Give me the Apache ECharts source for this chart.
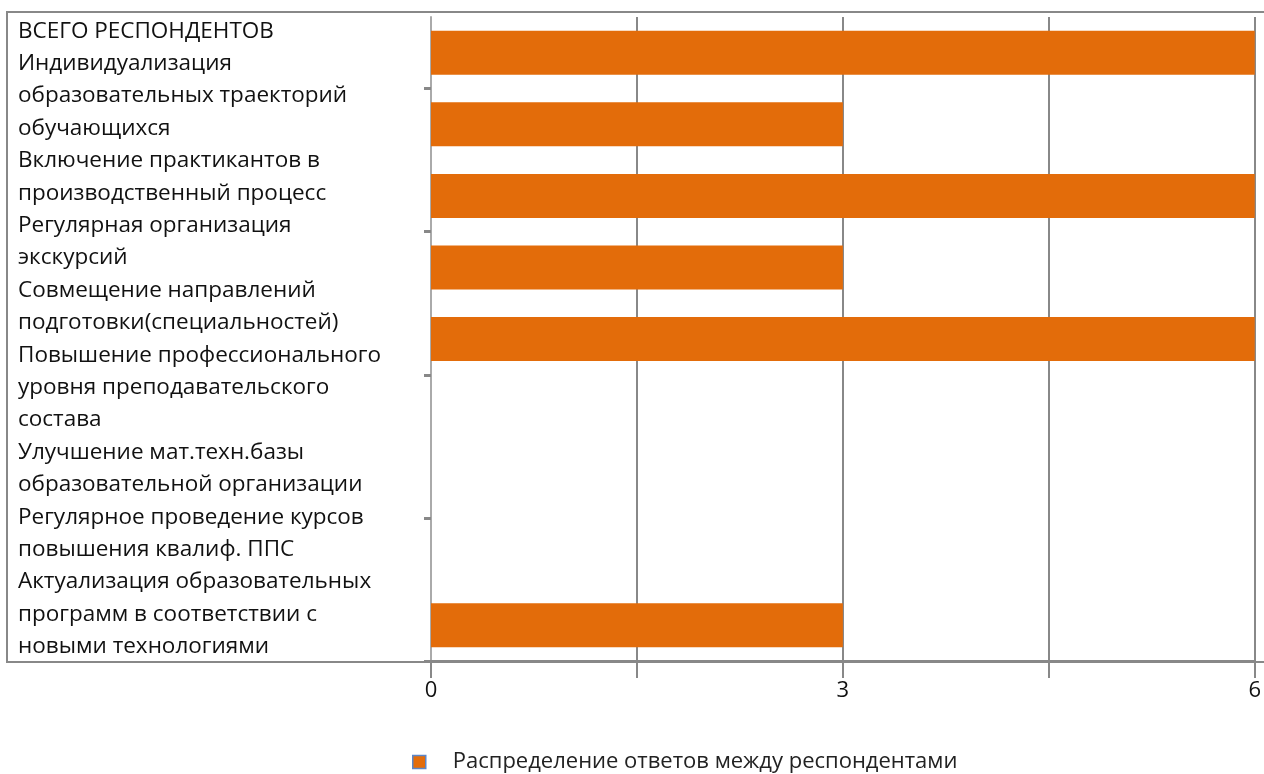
<!DOCTYPE html>
<html>
<head>
<meta charset="utf-8">
<script src="https://cdn.jsdelivr.net/npm/echarts@6/dist/echarts.min.js"></script>
<style>html,body{margin:0;padding:0;background:#fff}#c{width:1264px;height:774px}</style>
</head>
<body>
<div id="c"></div>
<script>
const categories = [
  'ВСЕГО РЕСПОНДЕНТОВ',
  'Индивидуализация\nобразовательных траекторий\nобучающихся',
  'Включение практикантов в\nпроизводственный процесс',
  'Регулярная организация\nэкскурсий',
  'Совмещение направлений\nподготовки(специальностей)',
  'Повышение профессионального\nуровня преподавательского\nсостава',
  'Улучшение мат.техн.базы\nобразовательной организации',
  'Регулярное проведение курсов\nповышения квалиф. ППС',
  'Актуализация образовательных\nпрограмм в соответствии с\nновыми технологиями'
];
const values = [6, 3, 6, 3, 6, 0, 0, 0, 3];
const seriesName = 'Распределение ответов между респондентами';
const xTickLabels = [0, 3, 6];

const chart = echarts.init(document.getElementById('c'));
const FONT = 'Open Sans';
chart.setOption({
  animation: false,
  textStyle: { fontFamily: FONT },
  graphic: [
    { type: 'rect', z: 0, shape: { x: 7, y: 12, width: 1280, height: 650 },
      style: { fill: 'none', stroke: '#888', lineWidth: 2 } },
    { type: 'text', z: 10, left: 18, top: 15,
      style: { text: categories.join('\n'), font: '22.5px "' + FONT + '"', lineHeight: 32.4, fill: '#111' } }
  ],
  legend: {
    left: 407, top: 746,
    icon: 'rect', itemWidth: 13, itemHeight: 13,
    itemStyle: { borderColor: '#5b86c8', borderWidth: 1.5 },
    textStyle: { fontSize: 22, color: '#222', fontFamily: FONT, padding: [0, 0, 0, 22] },
    data: [seriesName]
  },
  grid: { left: 431, right: 9, top: 17, bottom: 113 },
  xAxis: {
    type: 'value', min: 0, max: 6, interval: 1.5,
    axisLine: { show: true, lineStyle: { color: '#888', width: 3 } },
    axisTick: { show: true, length: 17, lineStyle: { color: '#888', width: 2 } },
    axisLabel: {
      margin: 19, fontSize: 22, color: '#111', fontFamily: FONT,
      formatter: v => (xTickLabels.indexOf(v) >= 0 ? String(v) : '')
    },
    splitLine: { show: true, lineStyle: { color: '#888', width: 2 } }
  },
  yAxis: {
    type: 'category', inverse: true, data: categories,
    axisLine: { show: true, lineStyle: { color: '#aaa', width: 2 } },
    axisTick: { show: true, length: 7, interval: (i) => i % 2 === 1, lineStyle: { color: '#888', width: 3 } },
    axisLabel: { show: false },
    splitLine: { show: false }
  },
  series: [{
    name: seriesName, type: 'bar', data: values, barWidth: 44,
    itemStyle: { color: '#E36C0A' }
  }]
});
</script>
</body>
</html>
